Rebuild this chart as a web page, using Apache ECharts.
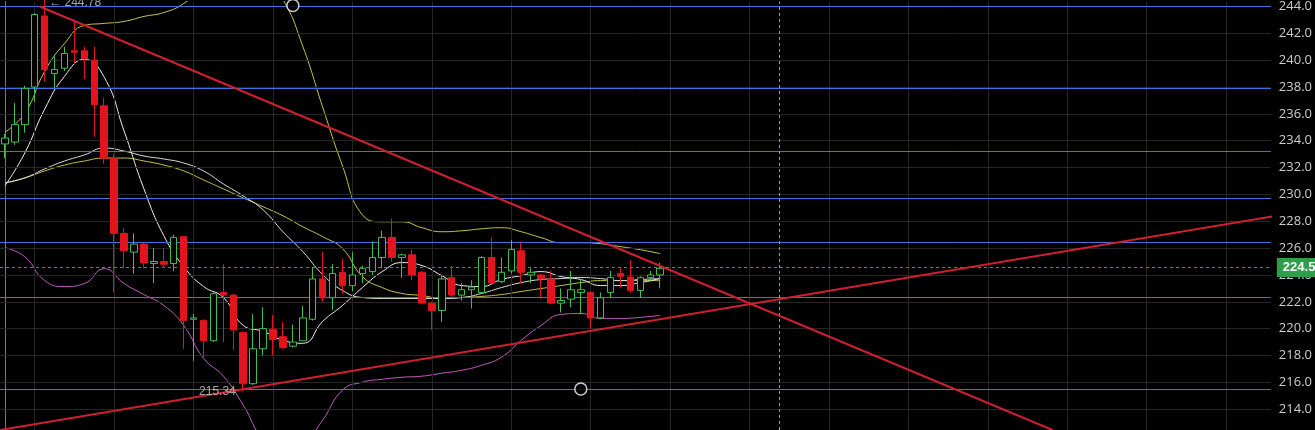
<!DOCTYPE html>
<html>
<head>
<meta charset="utf-8">
<script src="https://cdn.jsdelivr.net/npm/echarts@6/dist/echarts.min.js"></script>
<style>
  html, body { margin: 0; padding: 0; background: #000; }
  #chart { width: 1315px; height: 430px; }
</style>
</head>
<body>
<div id="chart"></div>
<script>
// candles: [open, close, low, high]
var candles = [
  [233.76, 234.2, 232.7, 234.5], [233.9, 235.2, 233.7, 236.8], [235.2, 237.9, 234.6, 238.1],
  [238.0, 243.4, 236.9, 243.5], [243.3, 239.3, 238.4, 244.78], [239.0, 239.3, 237.9, 240.3],
  [239.4, 240.5, 239.2, 241.0], [240.7, 240.6, 239.7, 243.0], [240.7, 240.1, 238.6, 241.0],
  [240.0, 236.7, 234.3, 241.0], [236.6, 232.7, 232.3, 237.2], [232.7, 227.1, 222.7, 233.0],
  [227.1, 225.8, 224.5, 227.5], [225.7, 226.3, 224.1, 227.1], [226.3, 224.9, 224.5, 226.4],
  [224.85, 225.0, 223.4, 226.0], [225.0, 224.8, 224.5, 226.0], [224.85, 226.8, 224.3, 227.0],
  [226.85, 220.6, 218.5, 226.9], [220.7, 220.8, 217.6, 221.1], [220.6, 219.1, 217.9, 220.7],
  [219.1, 222.6, 219.0, 222.7], [222.7, 222.5, 219.0, 224.8], [222.5, 219.9, 218.4, 222.6],
  [219.7, 215.9, 215.34, 219.8], [215.9, 218.5, 215.8, 221.1], [218.5, 220.0, 218.0, 221.6],
  [219.95, 219.2, 218.0, 221.0], [219.4, 218.6, 218.5, 220.5], [218.7, 219.0, 218.6, 220.3],
  [219.1, 220.8, 219.1, 221.7], [220.7, 223.7, 220.6, 224.6], [223.7, 222.3, 222.0, 225.7],
  [222.3, 224.1, 221.4, 224.8], [224.2, 223.2, 222.6, 225.2], [223.2, 224.0, 222.8, 225.7],
  [224.1, 224.5, 223.4, 224.7], [224.25, 225.3, 224.0, 226.5], [225.3, 226.8, 224.5, 227.3],
  [226.8, 225.3, 225.0, 228.2], [225.3, 225.5, 223.8, 225.6], [225.5, 224.0, 223.6, 225.9],
  [224.2, 221.9, 221.8, 224.3], [221.9, 221.35, 219.9, 222.0], [221.35, 223.7, 220.5, 224.0],
  [223.8, 222.5, 222.3, 224.7], [222.5, 222.9, 222.1, 223.4], [222.9, 223.1, 221.5, 223.6],
  [222.7, 225.3, 222.6, 225.4], [225.3, 223.4, 223.4, 226.8], [223.5, 224.2, 223.4, 225.3],
  [224.3, 225.9, 224.1, 226.6], [225.8, 224.2, 223.4, 226.4], [224.0, 224.2, 223.4, 224.5],
  [224.0, 223.7, 222.3, 224.05], [223.7, 221.9, 221.85, 224.3], [221.9, 222.1, 221.2, 223.0],
  [222.2, 222.9, 221.6, 224.3], [222.7, 222.9, 221.1, 223.7], [222.7, 220.8, 220.0, 222.8],
  [220.8, 222.3, 220.7, 222.7], [222.7, 223.8, 222.3, 224.3], [224.1, 223.9, 223.0, 224.5],
  [223.85, 222.85, 222.7, 225.1], [222.85, 223.8, 222.3, 223.9], [223.8, 224.0, 223.5, 224.3],
  [224.0, 224.5, 223.0, 224.9]
];
var slotCount = 128;

// indicator lines, one value every second candle
var maShort = [230.64, 233.09, 236.35, 238.80, 240.06, 238.73, 234.72, 230.41, 226.92, 224.62, 223.14, 222.32,
  220.24, 219.80, 219.13, 218.91, 220.54, 221.73, 223.06, 224.25, 224.92, 224.70, 223.95, 223.21, 223.14, 223.66,
  223.95, 224.25, 223.88, 223.66, 223.21, 223.21, 223.43, 223.73];
var maLong = [230.86, 231.23, 231.90, 232.49, 232.94, 233.46, 233.23, 232.86, 232.64, 232.34, 231.75, 230.78,
  229.89, 228.85, 227.22, 225.74, 224.03, 222.84, 222.32, 222.25, 222.25, 222.25, 222.25, 222.32, 222.62, 223.06,
  223.43, 223.66, 223.73, 223.81, 223.73, 223.58, 223.66, 223.73];
var maYellow = [230.86, 231.23, 231.75, 232.19, 232.49, 232.71, 232.71, 232.49, 232.19, 231.75, 231.08, 230.41,
  229.74, 229.08, 228.41, 227.59, 226.85, 225.96, 223.88, 223.06, 222.62, 222.47, 222.25, 222.32, 222.40, 222.54,
  222.77, 222.99, 223.21, 223.43, 223.58, 223.58, 223.58, 223.58];
var bandUpper = [234.64, 236.05, 239.17, 241.25, 242.59, 242.74, 242.89, 243.26, 243.55, 244.22, 245.48, 246.60,
  246.97, 246.23, 244.52, 241.03, 236.50, 232.12, 228.48, 227.96, 227.96, 227.52, 227.22, 227.29, 227.44, 227.52,
  227.22, 226.78, 226.40, 226.40, 226.33, 226.11, 225.88, 225.59];
var bandLower = [226.03, 225.36, 223.58, 223.14, 223.36, 224.47, 223.36, 222.54, 221.73, 220.24, 217.79, 216.46,
  214.30, 211.70, 210.59, 211.33, 213.19, 215.42, 216.01, 216.23, 216.38, 216.46, 216.68, 216.90, 217.27, 217.87,
  219.13, 220.24, 221.06, 221.13, 220.76, 220.76, 220.84, 220.99];

var levels = [244.0, 237.91, 233.23, 229.74, 226.40, 222.32, 215.49];
var lastPrice = '224.5';
var lastPriceY = 224.55;
var trendDown = [[3.5, 244.0], [105.5, 212.45]];
var trendUp = [[-0.5, 212.45], [128, 228.4]];
var circles = [[29, 244.07], [58, 215.5]];
var cursorIndex = 78;
var gridIndex = [3, 11, 19, 27, 35, 43, 51, 59, 67, 75, 83, 91, 99, 107, 115, 123];
var yTicks = [214, 216, 218, 220, 222, 224, 226, 228, 230, 232, 234, 236, 238, 240, 242, 244];

function pairs(arr) {
  return arr.map(function(v, k) { return [2 * k, v]; });
}
function lineSeries(arr, color) {
  return {
    type: 'line', xAxisIndex: 1, data: pairs(arr), smooth: true, symbol: 'none',
    lineStyle: { color: color, width: 1 }, z: 4, silent: true
  };
}

var cats = [];
for (var i = 0; i < slotCount; i++) cats.push(i);

var chart = echarts.init(document.getElementById('chart'));
chart.setOption({
  animation: false,
  backgroundColor: '#000',
  grid: { left: 0, right: 36, top: 0, bottom: 0 },
  xAxis: [
    { type: 'category', data: cats, show: false },
    { type: 'value', min: -0.5, max: slotCount - 0.5, show: false }
  ],
  yAxis: {
    type: 'value', position: 'right', min: 212.45, max: 244.37,
    axisLine: { show: true, lineStyle: { color: '#777' } },
    axisTick: { show: true, length: 4, lineStyle: { color: '#777' }, customValues: yTicks },
    axisLabel: {
      color: '#ccc', fontSize: 13, fontFamily: 'Open Sans', margin: 8,
      customValues: yTicks, formatter: function(v) { return v.toFixed(1); }
    },
    splitLine: { show: false }
  },
  series: [
    {
      type: 'line', xAxisIndex: 1, data: [], silent: true,
      markLine: {
        symbol: 'none', silent: true, label: { show: false },
        lineStyle: { color: '#262626', width: 1, type: 'solid' },
        data: yTicks.map(function(v) { return { yAxis: v }; })
          .concat(gridIndex.map(function(v) { return { xAxis: v }; }))
      }
    },
    {
      type: 'line', xAxisIndex: 1, data: [], silent: true,
      markLine: {
        symbol: 'none', silent: true, label: { show: false },
        lineStyle: { color: '#3f73e0', width: 1, type: 'solid' },
        data: levels.map(function(v) { return { yAxis: v }; })
      }
    },
    {
      type: 'line', xAxisIndex: 1, data: [], silent: true,
      markLine: {
        symbol: 'none', silent: true,
        data: [
          { yAxis: lastPriceY, lineStyle: { color: '#3a9a48', type: [3, 3], width: 1 },
            label: { show: true, position: 'end', formatter: lastPrice, color: '#fff',
              backgroundColor: '#2e9e4a', padding: [3, 8, 3, 6], fontSize: 13, fontWeight: 'bold', distance: 6 } },
          { xAxis: cursorIndex, lineStyle: { color: '#999', type: [3, 3], width: 1 }, label: { show: false } }
        ]
      }
    },
    {
      type: 'candlestick', xAxisIndex: 0, data: candles, barWidth: 7, z: 5,
      itemStyle: { color: '#000', color0: '#e3141d', borderColor: '#3fbf4f', borderColor0: '#e3141d', borderWidth: 1 }
    },
    lineSeries(bandUpper, '#c9c34a'),
    lineSeries(maYellow, '#c9c34a'),
    lineSeries(maLong, '#dddddd'),
    lineSeries(maShort, '#eeeeee'),
    lineSeries(bandLower, '#c05cc0'),
    {
      type: 'line', xAxisIndex: 1, data: trendDown, symbol: 'none', z: 6,
      lineStyle: { color: '#d11f30', width: 2 }
    },
    {
      type: 'line', xAxisIndex: 1, data: trendUp, symbol: 'none', z: 6,
      lineStyle: { color: '#d11f30', width: 2 }
    },
    {
      type: 'scatter', xAxisIndex: 1, data: circles, symbolSize: 12, z: 7,
      itemStyle: { color: '#000', borderColor: '#fff', borderWidth: 1.5 }
    },
    {
      type: 'scatter', xAxisIndex: 1, symbolSize: 1, z: 8, silent: true,
      itemStyle: { color: 'rgba(0,0,0,0)' },
      data: [
        { value: [4, 244.3], label: { show: true, formatter: '\u2190 244.78', position: 'right',
          distance: 4, color: '#ccc', fontSize: 12 } },
        { value: [23.5, 215.34], label: { show: true, formatter: '215.34', position: 'left',
          distance: 2, color: '#ccc', fontSize: 12 } }
      ]
    }
  ]
});
</script>
</body>
</html>
